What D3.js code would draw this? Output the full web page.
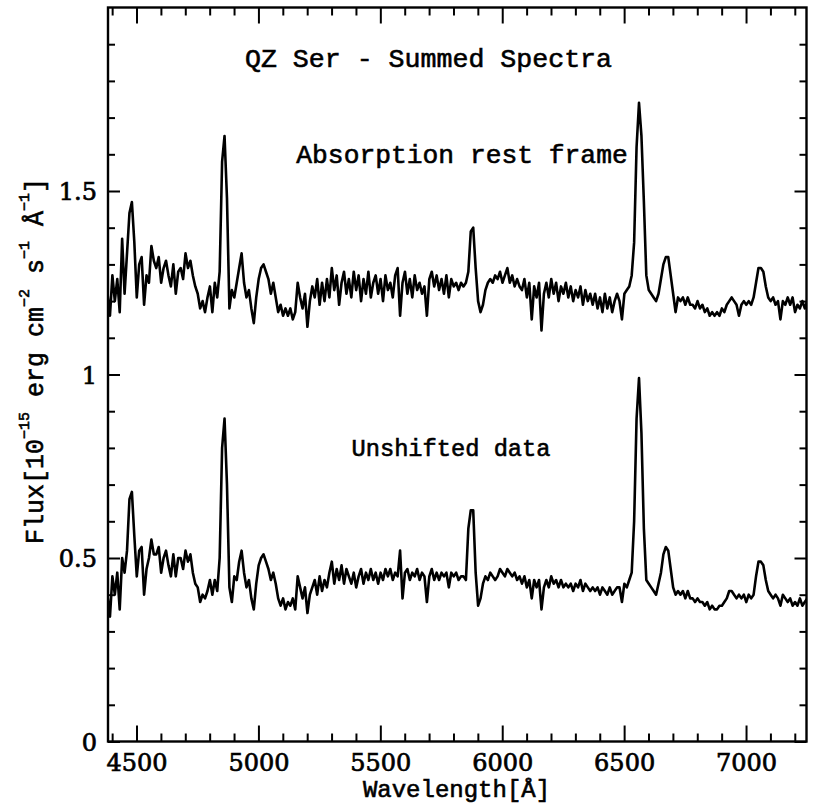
<!DOCTYPE html>
<html>
<head>
<meta charset="utf-8">
<script src="https://cdn.jsdelivr.net/npm/d3@7"></script>
<style>
  html, body { margin: 0; padding: 0; background: #fff; }
  svg { display: block; }
  text { font-family: "Liberation Mono", "Courier New", monospace; fill: #000; stroke: #000; stroke-width: 0.6px; }
</style>
</head>
<body>
<svg id="chart" width="815" height="809"></svg>
<script>
// QZ Ser summed spectra, flux in 1e-15 erg/cm^2/s/A, sampled every 10 A from 4381 A
const lambdaStart = 4381;
const lambdaStep = 10;

const absorptionRestFrame = [
  1.22, 1.16, 1.27, 1.20, 1.26, 1.17, 1.37, 1.22, 1.33, 1.44,
  1.47, 1.36, 1.21, 1.30, 1.32, 1.19, 1.27, 1.25, 1.35, 1.31,
  1.29, 1.32, 1.25, 1.29, 1.31, 1.27, 1.24, 1.30, 1.22, 1.28,
  1.29, 1.26, 1.33, 1.29, 1.31, 1.27, 1.24, 1.22, 1.18, 1.20,
  1.17, 1.21, 1.24, 1.17, 1.25, 1.21, 1.28, 1.58, 1.65, 1.48,
  1.18, 1.23, 1.21, 1.25, 1.29, 1.33, 1.25, 1.21, 1.23, 1.18,
  1.14, 1.21, 1.26, 1.29, 1.30, 1.28, 1.26, 1.22, 1.25, 1.21,
  1.17, 1.19, 1.16, 1.18, 1.16, 1.18, 1.15, 1.17, 1.25, 1.21,
  1.18, 1.22, 1.13, 1.20, 1.24, 1.21, 1.26, 1.19, 1.25, 1.20,
  1.26, 1.21, 1.29, 1.23, 1.27, 1.19, 1.25, 1.28, 1.22, 1.26,
  1.21, 1.28, 1.23, 1.27, 1.20, 1.26, 1.22, 1.28, 1.21, 1.25,
  1.27, 1.22, 1.26, 1.20, 1.27, 1.23, 1.25, 1.21, 1.27, 1.29,
  1.16, 1.25, 1.28, 1.22, 1.26, 1.21, 1.27, 1.23, 1.25, 1.22,
  1.24, 1.16, 1.26, 1.28, 1.24, 1.27, 1.23, 1.26, 1.22, 1.27,
  1.21, 1.26, 1.24, 1.25, 1.23, 1.25, 1.24, 1.25, 1.28, 1.39,
  1.40, 1.29, 1.20, 1.17, 1.19, 1.23, 1.25, 1.26, 1.25, 1.27,
  1.26, 1.28, 1.25, 1.27, 1.29, 1.25, 1.27, 1.24, 1.26, 1.24,
  1.23, 1.26, 1.21, 1.25, 1.15, 1.24, 1.21, 1.25, 1.12, 1.22,
  1.25, 1.21, 1.26, 1.22, 1.25, 1.20, 1.24, 1.22, 1.25, 1.21,
  1.24, 1.20, 1.23, 1.21, 1.24, 1.19, 1.23, 1.20, 1.22, 1.19,
  1.22, 1.18, 1.21, 1.17, 1.22, 1.18, 1.21, 1.17, 1.20, 1.22,
  1.20, 1.15, 1.22, 1.23, 1.24, 1.27, 1.36, 1.62, 1.74, 1.65,
  1.47, 1.27, 1.23, 1.22, 1.21, 1.20, 1.22, 1.26, 1.30, 1.32,
  1.32, 1.27, 1.22, 1.17, 1.21, 1.20, 1.21, 1.19, 1.21, 1.19,
  1.19, 1.18, 1.20, 1.18, 1.19, 1.17, 1.18, 1.16, 1.17, 1.16,
  1.17, 1.16, 1.18, 1.17, 1.19, 1.20, 1.21, 1.20, 1.19, 1.16,
  1.19, 1.20, 1.19, 1.20, 1.19, 1.21, 1.25, 1.29, 1.29, 1.28,
  1.24, 1.21, 1.20, 1.21, 1.19, 1.20, 1.15, 1.20, 1.19, 1.21,
  1.19, 1.21, 1.17, 1.19, 1.18, 1.20, 1.18, 1.20
];

const unshiftedData = [
  0.40, 0.34, 0.45, 0.40, 0.46, 0.36, 0.50, 0.46, 0.52, 0.66,
  0.68, 0.56, 0.45, 0.52, 0.53, 0.40, 0.47, 0.50, 0.55, 0.51,
  0.51, 0.53, 0.46, 0.50, 0.52, 0.48, 0.45, 0.51, 0.45, 0.50,
  0.50, 0.47, 0.52, 0.49, 0.51, 0.46, 0.43, 0.42, 0.38, 0.40,
  0.39, 0.41, 0.44, 0.40, 0.44, 0.41, 0.50, 0.80, 0.88, 0.70,
  0.42, 0.38, 0.45, 0.44, 0.49, 0.52, 0.46, 0.42, 0.44, 0.39,
  0.36, 0.43, 0.48, 0.50, 0.51, 0.49, 0.47, 0.44, 0.46, 0.43,
  0.39, 0.37, 0.39, 0.36, 0.38, 0.37, 0.39, 0.36, 0.45, 0.42,
  0.39, 0.42, 0.35, 0.40, 0.42, 0.44, 0.40, 0.45, 0.41, 0.44,
  0.42, 0.46, 0.49, 0.43, 0.47, 0.44, 0.48, 0.43, 0.47, 0.45,
  0.43, 0.46, 0.42, 0.45, 0.47, 0.43, 0.46, 0.44, 0.47, 0.44,
  0.46, 0.43, 0.46, 0.44, 0.47, 0.45, 0.47, 0.44, 0.46, 0.45,
  0.52, 0.39, 0.46, 0.47, 0.44, 0.46, 0.45, 0.47, 0.44, 0.46,
  0.45, 0.38, 0.45, 0.47, 0.44, 0.46, 0.44, 0.46, 0.45, 0.46,
  0.42, 0.46, 0.45, 0.46, 0.44, 0.45, 0.45, 0.44, 0.58, 0.63,
  0.63, 0.46, 0.37, 0.39, 0.43, 0.45, 0.44, 0.46, 0.45, 0.44,
  0.45, 0.47, 0.46, 0.45, 0.47, 0.46, 0.45, 0.46, 0.44, 0.45,
  0.43, 0.45, 0.42, 0.44, 0.39, 0.44, 0.42, 0.44, 0.36, 0.42,
  0.44, 0.42, 0.45, 0.43, 0.44, 0.42, 0.44, 0.42, 0.43, 0.42,
  0.43, 0.41, 0.43, 0.42, 0.44, 0.41, 0.43, 0.42, 0.41, 0.42,
  0.41, 0.42, 0.40, 0.42, 0.41, 0.40, 0.42, 0.40, 0.41, 0.42,
  0.42, 0.38, 0.43, 0.42, 0.44, 0.46, 0.60, 0.88, 0.99, 0.84,
  0.58, 0.44, 0.43, 0.42, 0.41, 0.40, 0.43, 0.46, 0.51, 0.53,
  0.52, 0.47, 0.42, 0.40, 0.41, 0.40, 0.41, 0.39, 0.41, 0.39,
  0.39, 0.38, 0.39, 0.38, 0.38, 0.37, 0.38, 0.36, 0.37, 0.36,
  0.36, 0.37, 0.37, 0.38, 0.39, 0.41, 0.41, 0.40, 0.39, 0.40,
  0.39, 0.40, 0.38, 0.40, 0.39, 0.40, 0.45, 0.49, 0.49, 0.48,
  0.44, 0.41, 0.40, 0.39, 0.40, 0.39, 0.37, 0.40, 0.39, 0.38,
  0.39, 0.37, 0.38, 0.37, 0.39, 0.37, 0.38, 0.39
];

const xMajorTicks = [4500, 5000, 5500, 6000, 6500, 7000];
const yMajorTicks = [0, 0.5, 1, 1.5];
const yTickLabels = ["0", "0.5", "1", "1.5"];

const titleText = "QZ Ser - Summed Spectra";
const upperLabel = "Absorption rest frame";
const lowerLabel = "Unshifted data";

const tickFont = '"DejaVu Serif", "Liberation Serif", serif';

// ---- layout ----
const plot = { left: 108, right: 806.5, top: 7.5, bottom: 741.5 };
const svg = d3.select("#chart");

const x = d3.scaleLinear().domain([4383, 7248]).range([plot.left, plot.right]);
const y = d3.scaleLinear().domain([0, 2]).range([plot.bottom, plot.top]);

const xMinorTicks = d3.range(4400, 7250, 100).filter(v => v % 500 !== 0);
const yMinorTicks = d3.range(1, 20).map(i => i / 10).filter(v => Math.abs(v * 2 - Math.round(v * 2)) > 1e-9);

const toSeries = arr => arr.map((f, i) => ({ w: lambdaStart + i * lambdaStep, f }));

svg.append("defs").append("clipPath").attr("id", "plotClip")
  .append("rect")
  .attr("x", plot.left).attr("y", plot.top)
  .attr("width", plot.right - plot.left).attr("height", plot.bottom - plot.top);

// ---- spectra ----
const line = d3.line().x(d => x(d.w)).y(d => y(d.f));
const spectra = svg.append("g").attr("clip-path", "url(#plotClip)");
[absorptionRestFrame, unshiftedData].forEach(arr => {
  spectra.append("path")
    .datum(toSeries(arr))
    .attr("d", line)
    .attr("fill", "none")
    .attr("stroke", "#000")
    .attr("stroke-width", 2.6)
    .attr("stroke-linejoin", "round");
});

// ---- axes: ticks on all four sides, pointing inward ----
function styleAxis(g) {
  g.select(".domain").remove();
  g.selectAll(".tick line").attr("stroke", "#000").attr("stroke-width", 2);
}
function styleTickText(sel) {
  sel.attr("font-family", null)
    .style("font-family", tickFont)
    .style("font-size", "24px")
    .style("stroke-width", "0.7px");
}

svg.append("g").attr("transform", `translate(0,${plot.bottom})`)
  .call(d3.axisBottom(x).tickValues(xMinorTicks).tickSize(-8).tickFormat(""))
  .call(styleAxis);
const xAxisG = svg.append("g").attr("transform", `translate(0,${plot.bottom})`)
  .call(d3.axisBottom(x).tickValues(xMajorTicks).tickSize(-16).tickFormat(d3.format("d")))
  .call(styleAxis)
  .attr("font-family", null);
xAxisG.selectAll("text")
  .attr("y", 29.5).attr("dy", null)
  .call(styleTickText);

svg.append("g").attr("transform", `translate(0,${plot.top})`)
  .call(d3.axisTop(x).tickValues(xMinorTicks).tickSize(-8).tickFormat(""))
  .call(styleAxis);
svg.append("g").attr("transform", `translate(0,${plot.top})`)
  .call(d3.axisTop(x).tickValues(xMajorTicks).tickSize(-16).tickFormat(""))
  .call(styleAxis);

svg.append("g").attr("transform", `translate(${plot.left},0)`)
  .call(d3.axisLeft(y).tickValues(yMinorTicks).tickSize(-7).tickFormat(""))
  .call(styleAxis);
const yAxisG = svg.append("g").attr("transform", `translate(${plot.left},0)`)
  .call(d3.axisLeft(y).tickValues(yMajorTicks).tickSize(-12)
    .tickPadding(11).tickFormat((d, i) => yTickLabels[i]))
  .call(styleAxis)
  .attr("font-family", null);
yAxisG.selectAll("text")
  .attr("dy", "0.36em")
  .call(styleTickText);

svg.append("g").attr("transform", `translate(${plot.right},0)`)
  .call(d3.axisRight(y).tickValues(yMinorTicks).tickSize(-7).tickFormat(""))
  .call(styleAxis);
svg.append("g").attr("transform", `translate(${plot.right},0)`)
  .call(d3.axisRight(y).tickValues(yMajorTicks).tickSize(-12).tickFormat(""))
  .call(styleAxis);

// ---- frame ----
svg.append("rect")
  .attr("x", plot.left).attr("y", plot.top)
  .attr("width", plot.right - plot.left).attr("height", plot.bottom - plot.top)
  .attr("fill", "none").attr("stroke", "#000").attr("stroke-width", 2.4);

// ---- labels ----
svg.append("text").attr("x", 428.5).attr("y", 66.5)
  .attr("text-anchor", "middle").attr("font-size", 26.6).text(titleText);
svg.append("text").attr("x", 462).attr("y", 163)
  .attr("text-anchor", "middle").attr("font-size", 26.3).text(upperLabel);
svg.append("text").attr("x", 451).attr("y", 456)
  .attr("text-anchor", "middle").attr("font-size", 23.7).text(lowerLabel);

svg.append("text").attr("x", 456.5).attr("y", 797)
  .attr("text-anchor", "middle").attr("font-size", 24).text("Wavelength[Å]");

// y axis title with superscripts
const yTitle = svg.append("text")
  .attr("transform", "translate(43,361) rotate(-90)")
  .attr("text-anchor", "middle")
  .attr("font-size", 25);
const parts = [
  ["Flux[10", false], ["−15", true], [" erg cm", false], ["−2", true],
  [" s", false], ["−1", true], [" Å", false], ["−1", true], ["]", false]
];
let raised = false;
parts.forEach(([t, sup]) => {
  const ts = yTitle.append("tspan").text(t);
  if (sup) {
    ts.attr("font-size", 15).attr("dy", raised ? 0 : -14);
    raised = true;
  } else {
    ts.attr("dy", raised ? 14 : 0);
    raised = false;
  }
});
</script>
</body>
</html>
